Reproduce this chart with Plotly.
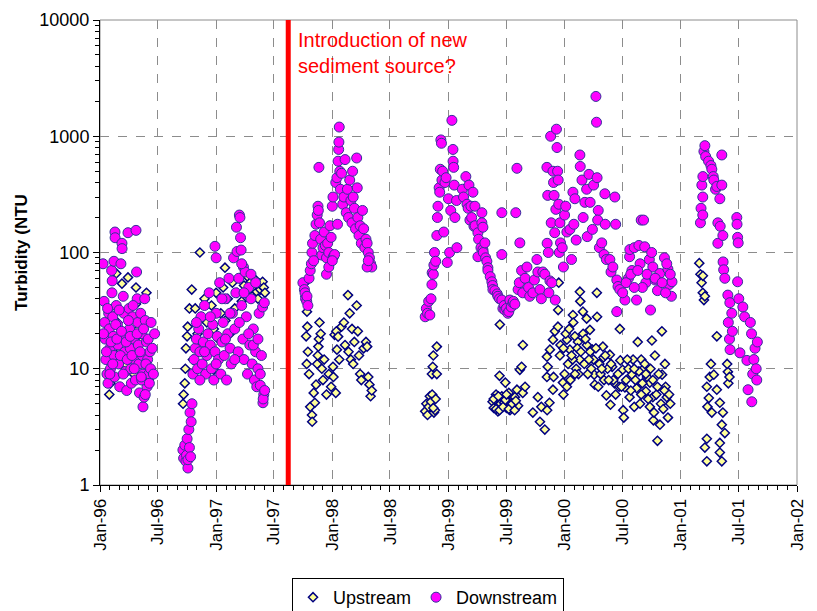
import numpy as np
import plotly.graph_objects as go

# ---------------- DATA (time in decimal years, turbidity in NTU) ----------------
# Downstream
dn96_t = [1996.026, 1996.035, 1996.04, 1996.045, 1996.05, 1996.06, 1996.069, 1996.075, 1996.08, 1996.086,
          1996.09, 1996.10, 1996.103, 1996.105, 1996.11, 1996.115, 1996.12, 1996.125, 1996.129, 1996.13,
          1996.12, 1996.14, 1996.15, 1996.155, 1996.16, 1996.17, 1996.189, 1996.19, 1996.18, 1996.20,
          1996.205, 1996.21, 1996.215, 1996.22, 1996.23, 1996.241, 1996.25, 1996.255, 1996.26, 1996.265,
          1996.27, 1996.28, 1996.29, 1996.30, 1996.305, 1996.31, 1996.315, 1996.32, 1996.325, 1996.33,
          1996.335, 1996.34, 1996.35, 1996.36, 1996.365, 1996.37, 1996.37, 1996.38, 1996.385, 1996.39,
          1996.40, 1996.405, 1996.41, 1996.42, 1996.43, 1996.44, 1996.39, 1996.36,
          1996.03, 1996.055, 1996.065, 1996.085, 1996.095, 1996.11, 1996.135, 1996.145, 1996.165, 1996.175,
          1996.185, 1996.20, 1996.225, 1996.235, 1996.245, 1996.26, 1996.275, 1996.285, 1996.295, 1996.32,
          1996.345, 1996.355, 1996.375, 1996.395, 1996.415, 1996.425, 1996.435, 1996.45, 1996.46, 1996.47]
dn96_v = [80, 38, 25, 18, 12, 9, 7.5, 30, 22, 15,
          10, 70, 45, 57, 28, 19, 13, 8.5, 150, 134,
          84, 35, 24, 16, 11, 7, 120, 108, 80, 42,
          30, 20, 14, 9.5, 6.5, 148, 33, 22, 15, 10,
          7.5, 28, 18, 12, 8, 155, 68, 40, 25, 16,
          11, 6.2, 30, 20, 13, 9, 4.7, 5.7, 40, 26,
          17, 7, 12, 9, 14, 25, 6, 8,
          20, 14, 33, 9, 17, 11, 24, 18, 32, 13,
          21, 9, 17, 12, 26, 19, 13, 35, 10, 20,
          14, 8.5, 22, 11, 18, 7.5, 10, 15, 9, 20]

dn97_t = [1996.714, 1996.72, 1996.73, 1996.74, 1996.745, 1996.75, 1996.757, 1996.757, 1996.765, 1996.77,
          1996.775, 1996.78, 1996.785, 1996.792, 1996.80, 1996.81, 1996.82, 1996.83, 1996.84, 1996.85,
          1996.86, 1996.87, 1996.88, 1996.89, 1996.90, 1996.91, 1996.92, 1996.93, 1996.94, 1996.95,
          1996.96, 1996.97, 1996.98, 1996.99, 1996.99, 1997.00, 1997.00, 1997.01, 1997.02, 1997.03,
          1997.04, 1997.05, 1997.06, 1997.07, 1997.08, 1997.09, 1997.10, 1997.11, 1997.12, 1997.13,
          1997.14, 1997.15, 1997.16, 1997.17, 1997.175, 1997.18, 1997.19, 1997.195, 1997.20, 1997.205,
          1997.21, 1997.215, 1997.22, 1997.23, 1997.235, 1997.24, 1997.25, 1997.26, 1997.27, 1997.28,
          1997.29, 1997.30, 1997.31, 1997.32, 1997.33, 1997.34, 1997.35, 1997.36, 1997.37, 1997.38,
          1997.39, 1997.40, 1997.403, 1997.41, 1997.405, 1997.415, 1997.418,
          1996.83, 1996.86, 1996.90, 1996.95, 1997.00, 1997.05, 1997.08, 1997.12, 1997.16, 1997.20,
          1997.24, 1997.28, 1997.32, 1997.36, 1997.38, 1997.22, 1997.30, 1997.34]
dn97_v = [2.0, 1.7, 2.2, 1.6, 1.8, 2.5, 1.4, 1.65, 3.0, 2.1,
          4.2, 1.75, 3.5, 5.0, 9, 12, 15, 18, 10, 22,
          14, 28, 11, 17, 35, 9, 13, 20, 45, 16,
          10, 24, 8, 14, 113, 30, 90, 19, 12, 55,
          9, 17, 25, 13, 40, 8, 20, 60, 15, 11,
          30, 90, 22, 45, 165, 102, 14, 60, 210, 200,
          134, 105, 35, 18, 75, 12, 68, 28, 9, 50,
          16, 40, 11, 22, 8, 14, 7, 10, 30, 7.2,
          13, 34, 5.1, 6, 5.5, 37, 6.5,
          25, 8, 14, 28, 11, 40, 18, 30, 12, 25,
          45, 20, 16, 18, 9, 80, 65, 55]

dn98_t = [1997.747, 1997.76, 1997.765, 1997.77, 1997.78, 1997.782, 1997.79, 1997.80, 1997.81, 1997.82,
          1997.825, 1997.83, 1997.84, 1997.85, 1997.86, 1997.87, 1997.877, 1997.88, 1997.885, 1997.89,
          1997.90, 1997.91, 1997.92, 1997.93, 1997.94, 1997.95, 1997.96, 1997.97, 1997.98, 1997.99,
          1998.00, 1998.006, 1998.01, 1998.02, 1998.03, 1998.04, 1998.045, 1998.05, 1998.055, 1998.057,
          1998.06, 1998.065, 1998.07, 1998.08, 1998.09, 1998.10, 1998.11, 1998.12, 1998.13, 1998.14,
          1998.15, 1998.16, 1998.17, 1998.175, 1998.18, 1998.19, 1998.20, 1998.21, 1998.215, 1998.22,
          1998.23, 1998.24, 1998.25, 1998.26, 1998.27, 1998.28, 1998.29, 1998.30, 1998.31, 1998.32,
          1998.33, 1998.34, 1998.30, 1998.31, 1997.95, 1997.97, 1998.00]
dn98_v = [55, 48, 45, 40, 38, 42, 35, 60, 70, 80,
          100, 120, 85, 140, 175, 210, 250, 230, 540, 180,
          130, 95, 110, 150, 115, 90, 120, 100, 170, 135,
          250, 300, 92, 96, 400, 440, 175, 610, 770, 890,
          1200, 500, 350, 480, 260, 300, 630, 220, 350, 200,
          420, 280, 180, 500, 300, 240, 160, 650, 360, 200,
          140, 170, 120, 230, 160, 110, 130, 120, 100, 90,
          80, 75, 75, 85, 65, 75, 85]

dn99_t = [1998.80, 1998.81, 1998.82, 1998.83, 1998.84, 1998.85, 1998.858, 1998.86, 1998.87, 1998.875,
          1998.88, 1998.89, 1998.90, 1998.905, 1998.91, 1998.92, 1998.925, 1998.93, 1998.935, 1998.94,
          1998.944, 1998.95, 1998.96, 1998.97, 1998.98, 1998.99, 1999.00, 1999.01, 1999.02, 1999.03,
          1999.039, 1999.04, 1999.045, 1999.05, 1999.056, 1999.07, 1999.073,
          1999.12, 1999.13, 1999.15, 1999.16, 1999.17, 1999.177, 1999.185, 1999.194, 1999.20, 1999.211,
          1999.22, 1999.228, 1999.23, 1999.254, 1999.254, 1999.26, 1999.28, 1999.288, 1999.288, 1999.297,
          1999.297, 1999.30, 1999.314, 1999.32, 1999.331, 1999.34, 1999.34, 1999.36, 1999.374, 1999.38,
          1999.383, 1999.40, 1999.42, 1999.426, 1999.44, 1999.46, 1999.469, 1999.48, 1999.486, 1999.50,
          1999.512, 1999.52, 1999.529, 1999.54, 1999.555, 1999.56, 1999.572, 1999.46, 1999.58, 1999.46]
dn99_v = [28, 33, 30, 38, 29, 40, 53, 67, 65, 78,
          100, 84, 140, 200, 250, 360, 330, 520, 930, 870,
          420, 500, 150, 400, 440, 82, 290, 100, 230, 1370,
          770, 610, 540, 380, 200, 280, 110,
          350, 300, 450, 260, 240, 380, 190, 250, 200, 330,
          168, 250, 170, 148, 92, 130, 110, 220, 180, 165,
          106, 100, 121, 90, 84, 74, 70, 62, 56, 52,
          48, 47, 44, 42, 40, 39, 33, 35, 32, 33,
          30, 31, 39, 34, 37, 38, 36, 220, 220, 96]

dn00_t = [1999.59, 1999.60, 1999.61, 1999.615, 1999.63, 1999.64, 1999.66, 1999.676, 1999.69, 1999.70,
          1999.727, 1999.74, 1999.762, 1999.77, 1999.788, 1999.80, 1999.813, 1999.83, 1999.848, 1999.85,
          1999.855, 1999.86, 1999.865, 1999.874, 1999.88, 1999.885, 1999.89, 1999.90, 1999.905, 1999.91,
          1999.915, 1999.92, 1999.925, 1999.93, 1999.935, 1999.94, 1999.945, 1999.95, 1999.955, 1999.96,
          1999.965, 1999.98, 1999.99, 2000.00, 2000.01, 2000.02, 2000.046, 2000.06, 2000.072, 2000.08,
          2000.089, 2000.10, 2000.132, 2000.135, 2000.15, 2000.16, 2000.175, 2000.19, 2000.195, 2000.21,
          2000.22, 2000.24, 2000.25, 2000.27, 2000.275, 2000.28, 2000.29, 2000.285, 2000.30, 2000.32,
          2000.34, 2000.347, 2000.35, 2000.36, 2000.39, 2000.40, 2000.416, 2000.433, 2000.44, 2000.45,
          2000.46, 2000.476, 2000.45, 2000.52, 2000.56, 2000.562, 2000.60, 2000.62, 2000.64, 2000.66,
          2000.68, 2000.69, 2000.70, 2000.73, 2000.74, 2000.76, 2000.78, 2000.80, 2000.82, 2000.86,
          2000.89, 2000.90, 2000.92, 2000.925, 2000.55, 2000.58, 2000.65, 2000.67, 2000.71, 2000.75,
          2000.78, 2000.84, 2000.87, 2000.88, 2000.91, 2000.50, 2000.53, 2000.57, 2000.60, 2000.63]
dn00_v = [530, 48, 55, 121, 70, 45, 60, 75, 50, 42,
          45, 58, 87, 68, 48, 40, 68, 65, 540, 120,
          310, 100, 45, 57, 1000, 180, 55, 500, 400, 310,
          148, 39, 235, 1150, 800, 500, 420, 260, 100, 180,
          121, 110, 75, 210, 250, 150, 158, 87, 330, 175,
          290, 128, 690, 550, 420, 200, 270, 350, 137, 470,
          270, 158, 380, 2200, 1320, 440, 230, 190, 110, 121,
          96, 320, 175, 87, 87, 68, 75, 300, 175, 58,
          51, 48, 31, 39, 92, 106, 110, 39, 115, 190,
          190, 112, 55, 87, 32, 75, 58, 47, 66, 90,
          72, 53, 42, 56, 60, 70, 80, 50, 65, 100,
          60, 55, 45, 80, 65, 45, 55, 65, 50, 70]

dn01_t = [2001.17, 2001.175, 2001.19, 2001.19, 2001.182, 2001.191, 2001.20, 2001.208, 2001.215, 2001.24,
          2001.26, 2001.268, 2001.28, 2001.285, 2001.30, 2001.311, 2001.32, 2001.32, 2001.337, 2001.34,
          2001.354, 2001.354, 2001.363, 2001.365, 2001.37, 2001.38, 2001.406, 2001.41, 2001.42, 2001.425,
          2001.423, 2001.44, 2001.445, 2001.483, 2001.485, 2001.49, 2001.495, 2001.49, 2001.50, 2001.51,
          2001.535, 2001.55, 2001.57, 2001.58, 2001.60, 2001.61, 2001.612, 2001.62, 2001.63, 2001.64,
          2001.65, 2001.66, 2001.655]
dn01_v = [180, 240, 210, 300, 380, 450, 740, 830, 670, 610,
          560, 520, 450, 420, 350, 370, 180, 120, 290, 168,
          380, 690, 140, 83, 71, 60, 43, 25, 18, 14.6,
          37, 30, 21, 200, 175, 135, 121, 56, 40, 13.7,
          34, 28, 11.8, 6.6, 25, 20, 5.2, 9, 12, 15,
          10, 17, 8]

# Upstream
up96_t = [1996.08, 1996.09, 1996.10, 1996.12, 1996.14, 1996.15, 1996.17, 1996.189, 1996.20, 1996.22,
          1996.241, 1996.25, 1996.27, 1996.29, 1996.31, 1996.31, 1996.33, 1996.35, 1996.37, 1996.40,
          1996.42]
up96_v = [6, 7.5, 12, 18, 66, 25, 14, 54, 20, 11,
          61, 30, 16, 9, 50, 36, 22, 17, 12, 45,
          8]

up97_t = [1996.715, 1996.72, 1996.73, 1996.735, 1996.74, 1996.75, 1996.755, 1996.77, 1996.79, 1996.80,
          1996.82, 1996.84, 1996.86, 1996.87, 1996.88, 1996.90, 1996.92, 1996.94, 1996.96, 1996.98,
          1997.00, 1997.02, 1997.04, 1997.06, 1997.076, 1997.08, 1997.10, 1997.12, 1997.14, 1997.16,
          1997.18, 1997.20, 1997.22, 1997.24, 1997.26, 1997.27, 1997.29, 1997.30, 1997.31, 1997.33,
          1997.34, 1997.35, 1997.36, 1997.37, 1997.38, 1997.39, 1997.40, 1997.41, 1997.42, 1996.98]
up97_v = [5.0, 6, 7.5, 10, 15, 19, 23, 33, 48, 12,
          33, 20, 100, 28, 16, 40, 25, 14, 35, 22,
          45, 18, 30, 50, 74, 26, 40, 20, 55, 33,
          45, 60, 38, 52, 44, 62, 48, 56, 42, 50,
          58, 46, 40, 54, 48, 52, 56, 50, 45, 9.8]

up98_t = [1997.765, 1997.77, 1997.782, 1997.785, 1997.775, 1997.78, 1997.79, 1997.80, 1997.81, 1997.825,
          1997.827, 1997.84, 1997.85, 1997.86, 1997.87, 1997.875, 1997.88, 1997.885, 1997.89, 1997.90,
          1997.91, 1997.92, 1997.93, 1997.95, 1997.97, 1997.99, 1998.006, 1998.01, 1998.02, 1998.03,
          1998.035, 1998.04, 1998.05, 1998.06, 1998.08, 1998.10, 1998.11, 1998.135, 1998.14, 1998.15,
          1998.16, 1998.17, 1998.18, 1998.19, 1998.21, 1998.22, 1998.23, 1998.24, 1998.25, 1998.27,
          1998.29, 1998.30, 1998.31, 1998.32, 1998.33, 1998.34]
up98_v = [55, 42, 31, 23, 19, 11, 14, 9, 4.7, 4.0,
          3.5, 6.2, 5.1, 7.3, 11, 13, 15.5, 18, 25, 20,
          10, 8, 12, 6, 9, 7, 10.4, 8.5, 19.6, 6.2,
          21, 14.6, 18.9, 12, 23, 25, 16, 43, 14, 30,
          12, 22, 11, 17, 35, 21, 13, 9, 8, 15,
          17, 15.5, 8.5, 7.3, 5.8, 6.5]

up99_t = [1998.80, 1998.81, 1998.82, 1998.83, 1998.84, 1998.86, 1998.858, 1998.865, 1998.87, 1998.90,
          1998.90, 1998.875, 1998.884, 1999.443, 1999.44, 1999.49, 1999.40, 1999.41, 1999.42, 1999.426,
          1999.45, 1999.47, 1999.50, 1999.53, 1999.55, 1999.572, 1999.59, 1999.60, 1999.38, 1999.39,
          1999.46, 1999.48, 1999.51, 1999.52, 1999.54,
          1999.39, 1999.41, 1999.43, 1999.44, 1999.47, 1999.49, 1999.50, 1999.52, 1999.55, 1999.57,
          1999.58, 1998.85, 1998.87, 1998.89]
up99_v = [4.3, 5.0, 4.0, 4.7, 5.8, 6, 9, 10.4, 13, 15.5,
          9, 4.2, 4.4, 24, 8.7, 7.6, 5.4, 6, 4.8, 4.3,
          5, 5.5, 4.6, 4.4, 5.6, 5.7, 6.6, 4.8, 5.2, 4.6,
          5.8, 5.1, 5.3, 6.2, 4.9,
          5.5, 4.5, 5.8, 4.4, 4.7, 5.4, 6, 4.5, 5, 4.4,
          5.3, 5.2, 4.6, 5.5]

up00_t = [1999.615, 1999.641, 1999.63, 1999.64, 1999.66, 1999.727, 1999.77, 1999.788, 1999.80, 1999.83,
          1999.85, 1999.87, 1999.848, 1999.855, 1999.874, 1999.848, 1999.90, 1999.917, 1999.943, 1999.945,
          1999.95, 1999.96, 1999.965, 1999.90, 1999.905, 1999.986, 1999.99, 2000.02, 2000.02, 2000.046,
          2000.072, 2000.075, 2000.089, 2000.115, 2000.13, 2000.132, 2000.135, 2000.158, 2000.16, 2000.19,
          2000.192, 2000.218, 2000.24, 2000.25, 2000.255, 2000.26, 2000.278, 2000.28, 2000.33, 2000.335,
          2000.34, 2000.36, 2000.39, 2000.395, 2000.41, 2000.43, 2000.45, 2000.476, 2000.48, 2000.50,
          2000.505, 2000.51, 2000.52, 2000.56, 2000.58, 2000.60, 2000.62, 2000.63, 2000.66, 2000.68,
          2000.70, 2000.734, 2000.734, 2000.752, 2000.76, 2000.765, 2000.77, 2000.778, 2000.80, 2000.821,
          2000.838, 2000.84, 2000.864, 2000.87, 2000.88, 2000.89,
          2000.00, 2000.03, 2000.05, 2000.07, 2000.10, 2000.12, 2000.17, 2000.20, 2000.22, 2000.23,
          2000.30, 2000.31, 2000.37, 2000.42, 2000.44, 2000.47, 2000.53, 2000.55, 2000.57, 2000.59,
          2000.61, 2000.64, 2000.65, 2000.67, 2000.69, 2000.71, 2000.72, 2000.74, 2000.79, 2000.81,
          2000.83, 2000.86, 2000.91,
          1999.99, 2000.01, 2000.04, 2000.06, 2000.09, 2000.11, 2000.14, 2000.18, 2000.21, 2000.27,
          2000.29, 2000.32, 2000.35, 2000.38, 2000.40, 2000.46, 2000.49, 2000.54, 2000.60, 2000.66,
          2000.70, 2000.76, 2000.80, 2000.85, 2000.90]
up00_v = [9.8, 16, 10.4, 6.2, 7, 4.2, 5.7, 3.5, 4.7, 3.0,
          4.4, 5.1, 8.5, 10.4, 14.6, 12.7, 17.8, 21, 23, 32,
          55, 13, 16, 6.6, 8.5, 7.6, 6, 7, 17.8, 14.6,
          29, 25, 19, 17, 12, 46, 38, 31, 20, 27,
          16, 21.6, 14.6, 12, 8.9, 7.3, 45, 28, 15.5, 12.5,
          8.0, 5.9, 13.2, 4.9, 10.4, 7.5, 31, 22, 11.8, 9.8,
          4.4, 3.8, 6.9, 5.7, 8.9, 4.7, 6.8, 17, 12, 10,
          6.4, 4.7, 7.6, 17.5, 5.7, 3.6, 4.2, 13, 2.4, 3.3,
          21, 8.9, 11, 7, 5.7, 3.8,
          9, 11, 8, 12, 10, 9, 11, 9, 14, 10,
          11, 9, 10, 8, 6, 7, 8, 10, 6.5, 12,
          8, 9.5, 5, 7.5, 11, 8.5, 5.5, 10, 6, 9,
          5, 6.5, 5,
          15, 20, 22, 13, 9, 15, 14, 18, 12, 15,
          7, 10, 13, 8, 11, 9, 7, 12, 10, 6,
          9, 8, 7, 4.5, 6]

up01_t = [2001.16, 2001.17, 2001.18, 2001.19, 2001.20, 2001.191, 2001.208, 2001.26, 2001.225, 2001.23,
          2001.242, 2001.25, 2001.268, 2001.285, 2001.311, 2001.311, 2001.337, 2001.363, 2001.354, 2001.38,
          2001.225, 2001.208, 2001.337, 2001.337, 2001.225, 2001.354, 2001.406, 2001.41, 2001.40, 2001.42]
up01_v = [81, 65, 55, 45, 39, 63, 42, 11, 7, 4.7,
          5.6, 8.5, 4.2, 8.9, 19, 6.6, 5.1, 4.2, 3.3, 2.8,
          2.5, 2.1, 2.3, 1.9, 1.6, 1.6, 9.4, 7.5, 11, 8.5]

# Axis / annotation content
x_start, x_end = "1996-01-01", "2002-01-01"
event_date = "1997-08-15"
event_text = "Introduction of new<br>sediment source?"
y_ticks = [1, 10, 100, 1000, 10000]
y_ticktext = ["1", "10", "100", "1000", "10000"]


def to_dates(t):
    base = np.datetime64("1996-01-01T00:00:00")
    secs = ((np.asarray(t, dtype=float) - 1996.0) * 365.25 * 86400).astype("int64")
    return base + secs.astype("timedelta64[s]")


dn_t = dn96_t + dn97_t + dn98_t + dn99_t + dn00_t + dn01_t
dn_v = dn96_v + dn97_v + dn98_v + dn99_v + dn00_v + dn01_v
up_t = up96_t + up97_t + up98_t + up99_t + up00_t + up01_t
up_v = up96_v + up97_v + up98_v + up99_v + up00_v + up01_v

FONT = "Liberation Sans, Arial, sans-serif"

fig = go.Figure()
fig.add_trace(go.Scatter(
    x=to_dates(up_t), y=up_v, mode="markers", name="Upstream",
    marker=dict(symbol="diamond", size=7, color="#FFFF99",
                line=dict(color="#000080", width=1.5)),
))
fig.add_trace(go.Scatter(
    x=to_dates(dn_t), y=dn_v, mode="markers", name="Downstream",
    marker=dict(symbol="circle", size=10, color="#FF00FF",
                line=dict(color="#333399", width=1)),
))

minor_y = [v * m for v in (1, 10, 100, 1000) for m in range(2, 10)]

# page has an 8px body margin: figure is offset so the plot area lands where the reference has it;
# the figure is taller than the window so the legend (cut off at the bottom, as in the reference)
# does not push the plot area up.
fig.update_layout(
    width=809, height=640,
    margin=dict(l=92, r=20, t=12, b=163),
    paper_bgcolor="white", plot_bgcolor="white",
    font=dict(family=FONT, size=18, color="black"),
    showlegend=True,
    legend=dict(orientation="h", x=0.4706, xanchor="center", y=-0.2, yanchor="top",
                bordercolor="black", borderwidth=1, traceorder="normal",
                font=dict(size=18), itemwidth=30, bgcolor="white"),
    xaxis=dict(
        type="date", range=[x_start, x_end], automargin=False,
        dtick="M6", tick0=x_start, tickformat="%b-%y", tickangle=-90,
        ticks="outside", ticklen=6, tickcolor="black",
        showline=True, linecolor="black", linewidth=1,
        showgrid=True, gridcolor="#8c8c8c", griddash="dash", gridwidth=1,
        minor=dict(dtick="M1", ticks="outside", ticklen=4, tickcolor="black", showgrid=False),
        tickfont=dict(size=17), zeroline=False,
    ),
    yaxis=dict(
        type="log", range=[0, 4], automargin=False,
        tickvals=y_ticks, ticktext=y_ticktext,
        ticks="outside", ticklen=6, tickcolor="black",
        showline=True, linecolor="black", linewidth=1,
        showgrid=True, gridcolor="#8c8c8c", griddash="dash", gridwidth=1,
        minor=dict(tickvals=minor_y, ticks="outside", ticklen=4, tickcolor="black", showgrid=False),
        title=dict(text="<b>Turbidity (NTU</b>", font=dict(size=17), standoff=7),
        tickfont=dict(size=18), zeroline=False,
    ),
    shapes=[
        dict(type="rect", xref="paper", yref="paper", x0=0, x1=1, y0=0, y1=1,
             line=dict(color="#8c8c8c", width=1), layer="below"),
        dict(type="line", xref="x", yref="paper", x0=event_date, x1=event_date, y0=0, y1=1,
             line=dict(color="#FF0000", width=5)),
    ],
    annotations=[
        dict(text=event_text, xref="x", yref="paper", x=event_date, y=0.985,
             xanchor="left", yanchor="top", xshift=8, showarrow=False, align="left",
             font=dict(color="#FF0000", size=20)),
    ],
)

fig.write_html("out.html")
